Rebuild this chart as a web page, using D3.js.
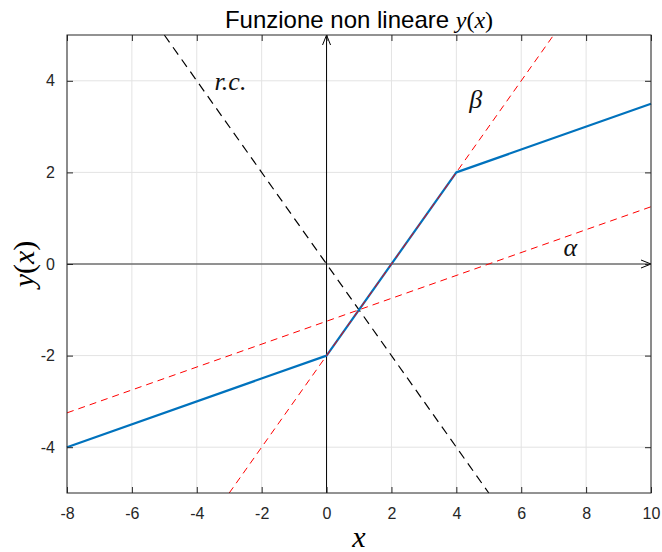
<!DOCTYPE html>
<head>
  <meta charset="utf-8" />
  <script src="https://cdn.jsdelivr.net/npm/d3@7"></script>
  <style>
    body { margin: 0; background: #fff; }
    svg { display: block; }
    .math { font-family: "Liberation Serif", "Times New Roman", serif; }
  </style>
</head>
<body>
  <svg width="662" height="552"></svg>
  <script>
    const width = 662;
    const height = 552;
    const margin = { top: 35, right: 11, bottom: 59, left: 67 };

    // funzione a tratti y(x)
    const funcX = [-8, 0, 4, 10];
    const funcY = [-4, -2, 2, 3.5];
    // rette tratteggiate (estremi)
    const betaX = [-3, 7];
    const betaY = [-5, 5];
    const alphaX = [-8, 10];
    const alphaY = [-3.25, 1.25];
    const rcX = [-5, 5];
    const rcY = [5, -5];
    // tick
    const xTicks = [-8, -6, -4, -2, 0, 2, 4, 6, 8, 10];
    const yTicks = [-4, -2, 0, 2, 4];
    // etichette
    const labels = [
      { t: "r.c.", x: -3.45, y: 3.8 },
      { t: "\u03B2", x: 4.4, y: 3.4 },
      { t: "\u03B1", x: 7.3, y: 0.18 }
    ];

    const svg = d3.select("svg");
    const w = width - margin.left - margin.right;
    const h = height - margin.top - margin.bottom;
    const g = svg.append("g").attr("transform", `translate(${margin.left},${margin.top})`);

    const xScale = d3.scaleLinear().domain([-8, 10]).range([0, w]);
    const yScale = d3.scaleLinear().domain([-5, 5]).range([h, 0]);

    // griglia
    g.append("g").selectAll("line").data(xTicks).enter().append("line")
      .attr("x1", d => xScale(d)).attr("x2", d => xScale(d))
      .attr("y1", 0).attr("y2", h)
      .attr("stroke", "#e3e3e3").attr("stroke-width", 1);
    g.append("g").selectAll("line").data(yTicks).enter().append("line")
      .attr("y1", d => yScale(d)).attr("y2", d => yScale(d))
      .attr("x1", 0).attr("x2", w)
      .attr("stroke", "#e3e3e3").attr("stroke-width", 1);

    // assi con frecce
    const defs = svg.append("defs");
    defs.append("marker").attr("id", "arr").attr("viewBox", "0 0 10 10")
      .attr("refX", 10).attr("refY", 5).attr("markerWidth", 10).attr("markerHeight", 10)
      .attr("markerUnits", "userSpaceOnUse").attr("orient", "auto")
      .append("path").attr("d", "M0,1 L10,5 L0,9").attr("fill", "none")
      .attr("stroke", "#000").attr("stroke-width", 1);

    g.append("line")
      .attr("x1", xScale(-8)).attr("x2", xScale(10))
      .attr("y1", yScale(0)).attr("y2", yScale(0))
      .attr("stroke", "#333").attr("stroke-width", 1).attr("marker-end", "url(#arr)");
    g.append("line")
      .attr("x1", xScale(0)).attr("x2", xScale(0))
      .attr("y1", yScale(-5)).attr("y2", yScale(5))
      .attr("stroke", "#000").attr("stroke-width", 1).attr("marker-end", "url(#arr)");

    const line = d3.line().x(d => xScale(d[0])).y(d => yScale(d[1]));

    g.append("path").datum(d3.zip(rcX, rcY)).attr("d", line)
      .attr("fill", "none").attr("stroke", "#000").attr("stroke-width", 1.2)
      .attr("stroke-dasharray", "9,6");
    g.append("path").datum(d3.zip(alphaX, alphaY)).attr("d", line)
      .attr("fill", "none").attr("stroke", "#ff0000").attr("stroke-width", 1)
      .attr("stroke-dasharray", "7,5");
    g.append("path").datum(d3.zip(funcX, funcY)).attr("d", line)
      .attr("fill", "none").attr("stroke", "#0072BD").attr("stroke-width", 2.2)
      .attr("stroke-linejoin", "round");
    g.append("path").datum(d3.zip(betaX, betaY)).attr("d", line)
      .attr("fill", "none").attr("stroke", "#ff0000").attr("stroke-width", 1)
      .attr("stroke-dasharray", "7,5");

    // etichette sulle rette
    g.append("g").selectAll("text").data(labels).enter().append("text")
      .attr("class", "math")
      .attr("x", d => xScale(d.x)).attr("y", d => yScale(d.y))
      .attr("font-size", 26).attr("font-style", "italic").attr("fill", "#111")
      .text(d => d.t);

    // assi e box
    const xAxis = d3.axisBottom(xScale).tickValues(xTicks).tickSize(-6).tickPadding(15);
    const yAxis = d3.axisLeft(yScale).tickValues(yTicks).tickSize(-6).tickPadding(12);
    const gx = g.append("g").attr("transform", `translate(0,${h})`).call(xAxis);
    const gy = g.append("g").call(yAxis);
    const gxt = g.append("g").call(d3.axisTop(xScale).tickValues(xTicks).tickSize(-6).tickFormat(""));
    const gyr = g.append("g").attr("transform", `translate(${w},0)`).call(d3.axisRight(yScale).tickValues(yTicks).tickSize(-6).tickFormat(""));
    [gx, gy, gxt, gyr].forEach(a => {
      a.select(".domain").remove();
      a.selectAll(".tick line").attr("stroke", "#262626");
    });
    [gx, gy].forEach(a => {
      a.selectAll(".tick text").attr("fill", "#262626")
        .style("font-size", "16px").style("font-family", "'Liberation Sans', Arial, sans-serif")
        .text(d => d < 0 ? "-" + Math.abs(d) : d);
    });
    g.append("rect").attr("width", w).attr("height", h)
      .attr("fill", "none").attr("stroke", "#262626").attr("stroke-width", 1);

    // titolo
    const title = svg.append("text").attr("x", margin.left + w / 2).attr("y", 28)
      .attr("text-anchor", "middle").attr("fill", "#000").attr("font-size", 24)
      .attr("font-family", "'Liberation Sans', Arial, sans-serif");
    title.append("tspan").text("Funzione non lineare ");
    title.append("tspan").attr("class", "math").attr("font-style", "italic").text("y");
    title.append("tspan").attr("class", "math").text("(");
    title.append("tspan").attr("class", "math").attr("font-style", "italic").text("x");
    title.append("tspan").attr("class", "math").text(")");

    // etichette assi
    svg.append("text").attr("class", "math").attr("x", margin.left + w / 2).attr("y", 547)
      .attr("text-anchor", "middle").attr("font-size", 30).attr("font-style", "italic").text("x");
    const yl = svg.append("text").attr("class", "math")
      .attr("transform", `translate(34,${margin.top + h / 2}) rotate(-90)`)
      .attr("text-anchor", "middle").attr("font-size", 30);
    yl.append("tspan").attr("font-style", "italic").text("y");
    yl.append("tspan").text("(");
    yl.append("tspan").attr("font-style", "italic").text("x");
    yl.append("tspan").text(")");
  </script>
</body>
